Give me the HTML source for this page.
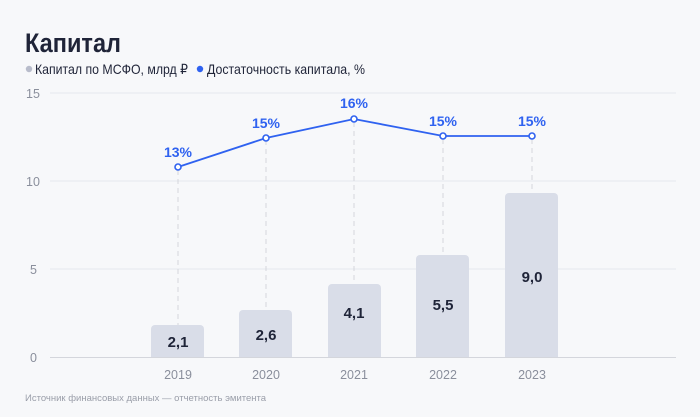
<!DOCTYPE html>
<html><head><meta charset="utf-8"><style>
body{margin:0;background:#f7f8fa;}
svg{display:block;font-family:"Liberation Sans",sans-serif;}
</style></head><body>
<svg width="700" height="417" viewBox="0 0 700 417">
<rect width="700" height="417" fill="#f7f8fa"/>
<text x="25" y="52" font-size="27" font-weight="bold" fill="#1f2438" textLength="96" lengthAdjust="spacingAndGlyphs">Капитал</text>
<circle cx="29" cy="69" r="3.2" fill="#b8bccb"/>
<text x="35" y="74" font-size="14" fill="#1f2438" textLength="153" lengthAdjust="spacingAndGlyphs">Капитал по МСФО, млрд ₽</text>
<circle cx="200" cy="69" r="3.2" fill="#2f62f0"/>
<text x="207" y="74" font-size="14" fill="#1f2438" textLength="158" lengthAdjust="spacingAndGlyphs">Достаточность капитала, %</text>
<g stroke="#e6e8ee" stroke-width="1">
<line x1="50" y1="93" x2="676" y2="93"/>
<line x1="50" y1="181" x2="676" y2="181"/>
<line x1="50" y1="269" x2="676" y2="269"/>
</g>
<g font-size="12.5" fill="#8a8f9c">
<text x="26" y="98">15</text><text x="26" y="186">10</text><text x="30" y="274">5</text><text x="30" y="362">0</text>
</g>
<g stroke="#d4d6dc" stroke-dasharray="5,4" stroke-width="1">
<line x1="178" y1="170" x2="178" y2="325"/>
<line x1="266" y1="140" x2="266" y2="310"/>
<line x1="354" y1="122" x2="354" y2="284"/>
<line x1="443" y1="139" x2="443" y2="255"/>
<line x1="532" y1="139" x2="532" y2="193"/>
</g>
<g fill="#d9dde8">
<rect x="151" y="325" width="53" height="40" rx="4"/>
<rect x="239" y="310" width="53" height="55" rx="4"/>
<rect x="328" y="284" width="53" height="81" rx="4"/>
<rect x="416" y="255" width="53" height="110" rx="4"/>
<rect x="505" y="193" width="53" height="172" rx="4"/>
</g>
<rect x="48" y="358" width="640" height="59" fill="#f7f8fa"/>
<line x1="50" y1="357.5" x2="676" y2="357.5" stroke="#d4d6dc"/>
<g font-size="15" font-weight="bold" fill="#1f2438" text-anchor="middle">
<text x="178" y="347">2,1</text><text x="266" y="340">2,6</text><text x="354" y="318">4,1</text><text x="443" y="310">5,5</text><text x="532" y="282">9,0</text>
</g>
<g font-size="12.5" fill="#8a8f9c" text-anchor="middle">
<text x="178" y="379">2019</text><text x="266" y="379">2020</text><text x="354" y="379">2021</text><text x="443" y="379">2022</text><text x="532" y="379">2023</text>
</g>
<polyline points="178,167 266,138 354,119 443,136 532,136" fill="none" stroke="#2f62f0" stroke-width="1.8"/>
<g fill="#fff" stroke="#2f62f0" stroke-width="1.6">
<circle cx="178" cy="167" r="3"/><circle cx="266" cy="138" r="3"/><circle cx="354" cy="119" r="3"/><circle cx="443" cy="136" r="3"/><circle cx="532" cy="136" r="3"/>
</g>
<g font-size="14" font-weight="bold" fill="#2f62f0" text-anchor="middle">
<text x="178" y="157">13%</text><text x="266" y="128">15%</text><text x="354" y="108">16%</text><text x="443" y="126">15%</text><text x="532" y="126">15%</text>
</g>
<text x="25" y="401" font-size="9.5" fill="#9a9ea9">Источник финансовых данных — отчетность эмитента</text>
</svg>
</body></html>
